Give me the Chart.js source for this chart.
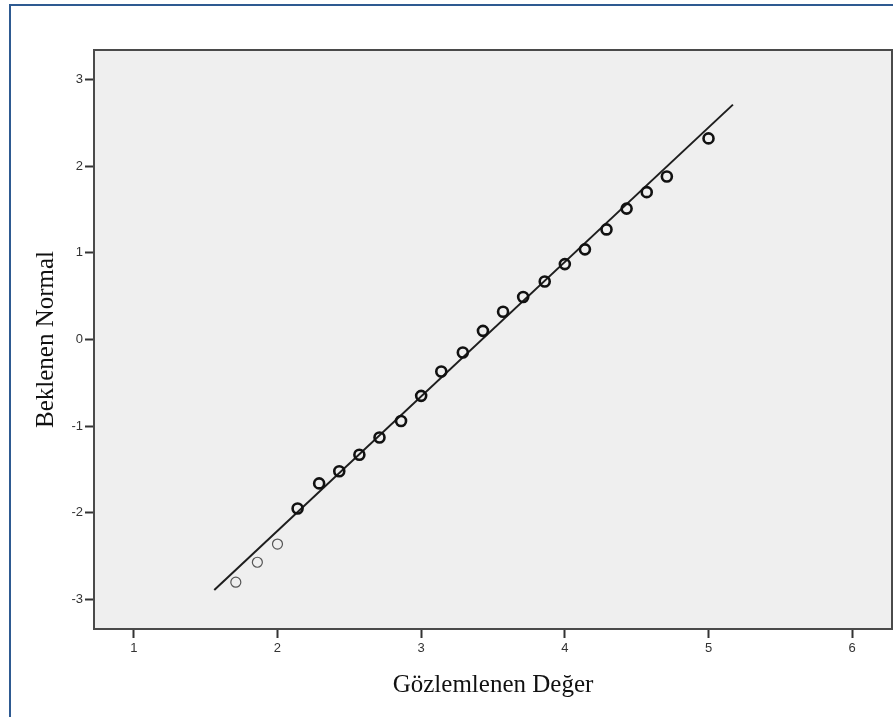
<!DOCTYPE html>
<html>
<head>
<meta charset="utf-8">
<script src="https://cdn.jsdelivr.net/npm/chart.js@4/dist/chart.umd.min.js"></script>
<style>
    html, body { margin: 0; padding: 0; background: #fff; }
    #wrap { width: 893px; height: 717px; position: relative; }
</style>
</head>
<body>
<div id="wrap"><canvas id="qqChart"></canvas></div>
<script>
// Q-Q plot: observed scale scores vs expected normal values
const observed = [1.71, 1.86, 2.00, 2.14, 2.29, 2.43, 2.57, 2.71, 2.86, 3.00, 3.14, 3.29,
                  3.43, 3.57, 3.71, 3.86, 4.00, 4.14, 4.29, 4.43, 4.57, 4.71, 5.00];
const expected = [-2.80, -2.57, -2.36, -1.95, -1.66, -1.52, -1.33, -1.13, -0.94, -0.65, -0.37, -0.15,
                  0.10, 0.32, 0.49, 0.67, 0.87, 1.04, 1.27, 1.51, 1.70, 1.88, 2.32];
const refLineX = [1.56, 5.17];
const refLineY = [-2.89, 2.71];
const xTicks = [1, 2, 3, 4, 5, 6];
const yTicks = [-3, -2, -1, 0, 1, 2, 3];

const points = observed.map((x, i) => ({ x: x, y: expected[i] }));
const linePts = refLineX.map((x, i) => ({ x: x, y: refLineY[i] }));

// plot background, frame and the outer panel border
const framePlugin = {
    id: 'frame',
    beforeDraw(chart) {
        const { ctx, chartArea: a } = chart;
        ctx.save();
        ctx.fillStyle = '#fff';
        ctx.fillRect(0, 0, chart.width, chart.height);
        ctx.strokeStyle = '#2e5a91';
        ctx.lineWidth = 2;
        ctx.strokeRect(10, 5, chart.width + 20, chart.height + 20);
        ctx.fillStyle = '#efefef';
        ctx.fillRect(a.left, a.top, a.right - a.left, a.bottom - a.top);
        ctx.restore();
    },
    afterDatasetsDraw(chart) {
        const { ctx, chartArea: a } = chart;
        ctx.save();
        ctx.strokeStyle = '#4a4a4a';
        ctx.lineWidth = 2;
        ctx.strokeRect(a.left, a.top, a.right - a.left, a.bottom - a.top);
        ctx.restore();
    }
};

const tickFont = { family: 'Liberation Sans, Arial, sans-serif', size: 13 };
const titleFont = { family: 'Liberation Serif, Times New Roman, serif', size: 25 };

new Chart(document.getElementById('qqChart'), {
    type: 'scatter',
    data: {
        datasets: [{
            type: 'line',
            data: linePts,
            borderColor: '#1e1e1e',
            borderWidth: 2,
            pointRadius: 0,
            fill: false,
            order: 2
        }, {
            data: points,
            pointStyle: 'circle',
            pointRadius: 5,
            pointBackgroundColor: 'rgba(0,0,0,0)',
            pointBorderColor: ctx => ctx.dataIndex < 3 ? '#555' : '#111',
            pointBorderWidth: ctx => ctx.dataIndex < 3 ? 1.2 : 2.6,
            order: 1
        }]
    },
    options: {
        responsive: true,
        maintainAspectRatio: false,
        animation: false,
        layout: { autoPadding: false, padding: { top: 50, right: 1, left: 0, bottom: 0 } },
        plugins: { legend: { display: false }, tooltip: { enabled: false } },
        scales: {
            x: {
                type: 'linear',
                min: 0.723,
                max: 6.277,
                afterFit: s => { s.height = 88; s.paddingLeft = 0; s.paddingRight = 0; },
                afterBuildTicks: s => { s.ticks = xTicks.map(v => ({ value: v })); },
                grid: { drawOnChartArea: false, tickLength: 9, tickColor: '#333', tickWidth: 2 },
                border: { display: false },
                ticks: { color: '#333', font: tickFont, padding: 3 },
                title: {
                    display: true,
                    text: 'Gözlemlenen Değer',
                    color: '#111',
                    font: titleFont,
                    padding: { top: 0, bottom: 17 }
                }
            },
            y: {
                type: 'linear',
                min: -3.34,
                max: 3.34,
                afterFit: s => { s.width = 94; s.paddingTop = 0; s.paddingBottom = 0; },
                afterBuildTicks: s => { s.ticks = yTicks.map(v => ({ value: v })); },
                grid: { drawOnChartArea: false, tickLength: 9, tickColor: '#333', tickWidth: 2 },
                border: { display: false },
                ticks: { color: '#333', font: tickFont, padding: 2 },
                title: {
                    display: true,
                    text: 'Beklenen Normal',
                    color: '#111',
                    font: titleFont,
                    padding: { top: 31, bottom: 0 }
                }
            }
        }
    },
    plugins: [framePlugin]
});
</script>
</body>
</html>
